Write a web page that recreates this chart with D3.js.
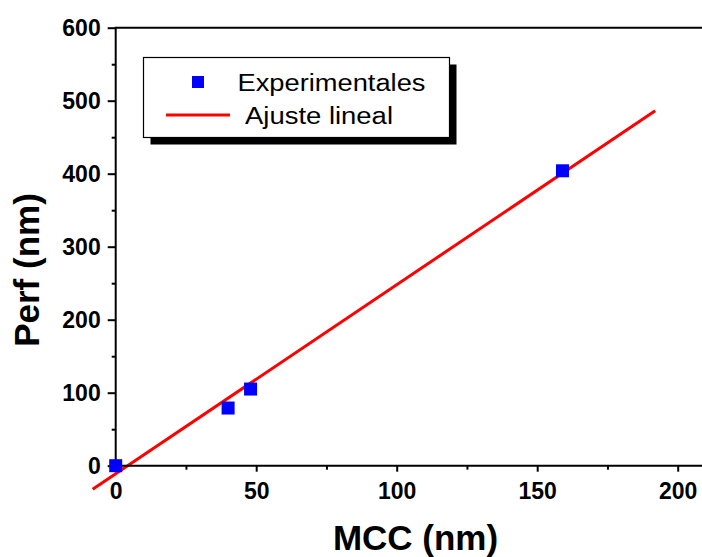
<!DOCTYPE html>
<html>
<head>
<meta charset="utf-8">
<script src="https://cdn.jsdelivr.net/npm/d3@7/dist/d3.min.js"></script>
<style>
  html, body { margin: 0; padding: 0; background: #fff; }
  svg { display: block; font-family: "Liberation Sans", Arial, sans-serif; }
</style>
</head>
<body>
<svg id="chart" width="702" height="557"></svg>
<script>
// Measured data: MCC vs Perf
const mcc = [0, 40, 48, 159];
const perf = [0, 79, 105, 404];

// Linear fit: Perf = slope * MCC + intercept, drawn over this MCC range
const fitSlope = 2.59;
const fitIntercept = -11.1;
const fitRange = [-8.2, 192];

// Axis ticks
const xMajorTicks = [0, 50, 100, 150, 200];
const xMinorTicks = [25, 75, 125, 175];
const yMajorTicks = [0, 100, 200, 300, 400, 500, 600];
const yMinorTicks = [50, 150, 250, 350, 450, 550];

// Text
const xTitle = "MCC (nm)";
const yTitle = "Perf (nm)";
const legendLabels = ["Experimentales", "Ajuste lineal"];

const svg = d3.select("#chart");

const x = d3.scaleLinear().domain([0, 210]).range([115.7, 705.8]);
const y = d3.scaleLinear().domain([0, 600]).range([465.7, 27.7]);

// Fit line (extends a little past the axes)
const fitData = fitRange.map(v => [v, fitSlope * v + fitIntercept]);
svg.append("path")
  .datum(fitData)
  .attr("fill", "none")
  .attr("stroke", "#ff0000")
  .attr("stroke-width", 3)
  .attr("d", d3.line().x(d => x(d[0])).y(d => y(d[1])));

// Axes
const axisFont = g => g.selectAll("text")
  .attr("font-family", "'Liberation Sans', Arial, sans-serif")
  .attr("font-weight", "bold")
  .attr("font-size", 23)
  .attr("fill", "#000");

const yAxis = svg.append("g")
  .attr("transform", `translate(${x(0)},0)`)
  .call(d3.axisLeft(y).tickValues(yMajorTicks).tickSize(8).tickPadding(7).tickFormat(d3.format("d")))
  .call(axisFont);
yAxis.select(".domain").remove();
yAxis.selectAll("line").attr("stroke", "#000").attr("stroke-width", 2);

const yMinor = svg.append("g")
  .attr("transform", `translate(${x(0)},0)`)
  .call(d3.axisLeft(y).tickValues(yMinorTicks).tickSize(4).tickFormat(""));
yMinor.select(".domain").remove();
yMinor.selectAll("line").attr("stroke", "#000").attr("stroke-width", 2);

const xAxis = svg.append("g")
  .attr("transform", `translate(0,${y(0)})`)
  .call(d3.axisBottom(x).tickValues(xMajorTicks).tickSize(6).tickPadding(11).tickFormat(d3.format("d")))
  .call(axisFont);
xAxis.select(".domain").remove();
xAxis.selectAll("line").attr("stroke", "#000").attr("stroke-width", 2);

const xMinor = svg.append("g")
  .attr("transform", `translate(0,${y(0)})`)
  .call(d3.axisBottom(x).tickValues(xMinorTicks).tickSize(4).tickFormat(""));
xMinor.select(".domain").remove();
xMinor.selectAll("line").attr("stroke", "#000").attr("stroke-width", 2);

// Frame lines: left, bottom, top
const frame = svg.append("g").attr("stroke", "#000").attr("stroke-width", 2);
frame.append("line").attr("x1", x(0)).attr("x2", x(0)).attr("y1", y(600)).attr("y2", y(0) + 1);
frame.append("line").attr("x1", x(0) - 1).attr("x2", x(210)).attr("y1", y(0)).attr("y2", y(0));
frame.append("line").attr("x1", x(0) - 1).attr("x2", x(210)).attr("y1", y(600)).attr("y2", y(600));

// Data points
const pts = mcc.map((v, i) => [v, perf[i]]);
svg.append("g").selectAll("rect")
  .data(pts)
  .join("rect")
  .attr("x", d => x(d[0]) - 6.5)
  .attr("y", d => y(d[1]) - 6.5)
  .attr("width", 13)
  .attr("height", 13)
  .attr("fill", "#0000ff");

// Axis titles
svg.append("text")
  .attr("x", 415.5).attr("y", 550)
  .attr("text-anchor", "middle")
  .attr("font-weight", "bold")
  .attr("font-size", 35)
  .text(xTitle);

svg.append("text")
  .attr("transform", "translate(39,270) rotate(-90)")
  .attr("text-anchor", "middle")
  .attr("font-weight", "bold")
  .attr("font-size", 35)
  .text(yTitle);

// Legend with drop shadow
const lg = svg.append("g");
const lx = 143.5, ly = 57.5, lw = 306, lh = 80;
lg.append("rect").attr("x", lx + 7).attr("y", ly + 7).attr("width", lw).attr("height", lh).attr("fill", "#000");
lg.append("rect").attr("x", lx).attr("y", ly).attr("width", lw).attr("height", lh)
  .attr("fill", "#fff").attr("stroke", "#000").attr("stroke-width", 1.2);
lg.append("rect").attr("x", 192).attr("y", 76).attr("width", 12).attr("height", 12).attr("fill", "#0000ff");
lg.append("line").attr("x1", 166).attr("x2", 230).attr("y1", 115).attr("y2", 115)
  .attr("stroke", "#ff0000").attr("stroke-width", 3);
lg.append("text").attr("x", 237.5).attr("y", 91)
  .attr("font-size", 23)
  .attr("textLength", 188).attr("lengthAdjust", "spacingAndGlyphs")
  .text(legendLabels[0]);
lg.append("text").attr("x", 245).attr("y", 124)
  .attr("font-size", 23)
  .attr("textLength", 148).attr("lengthAdjust", "spacingAndGlyphs")
  .text(legendLabels[1]);
</script>
</body>
</html>
